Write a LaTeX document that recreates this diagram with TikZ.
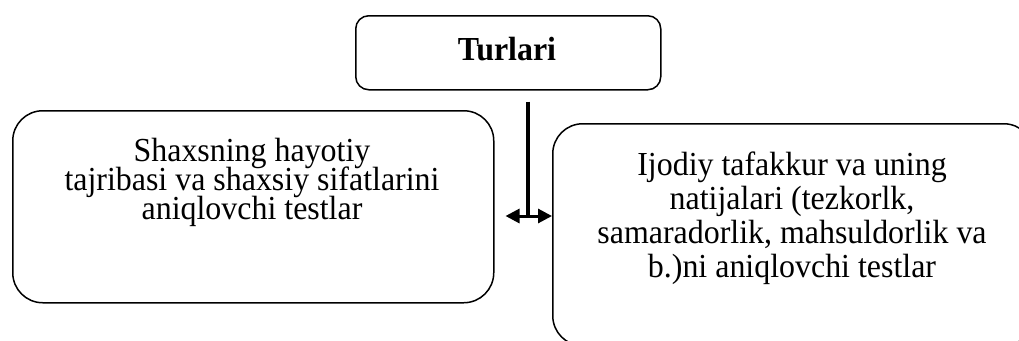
\documentclass[tikz,border=0pt]{standalone}
\usepackage{fontspec}
\setmainfont{Liberation Serif}
\newfontfamily\boxfont[FakeStretch=0.95]{Liberation Serif}
\newcommand{\leftfont}{\boxfont\fontsize{33.6}{29}\selectfont\lineskiplimit=-60pt\relax}
\newcommand{\rightfont}{\boxfont\fontsize{33.6}{34}\selectfont\lineskiplimit=-60pt\relax}
\usetikzlibrary{arrows.meta}
\begin{document}
\begin{tikzpicture}[x=1pt,y=-1pt,
  box/.style={draw=black,line width=1.5pt,rounded corners=30pt,inner sep=0pt,anchor=north west},
  txt/.style={anchor=north,inner sep=0pt,align=center},
  conn/.style={line width=3.8pt},
  dbl/.style={line width=3pt,{Triangle[length=14pt,width=14pt]}-{Triangle[length=14pt,width=14pt]}}]
\useasboundingbox[fill=white] (0,0) rectangle (1019,340);
% boxes
\node[box,rounded corners=13pt,minimum width=305pt,minimum height=74pt] (T) at (355,15) {};
\node[box,minimum width=481pt,minimum height=192pt] (L) at (12,110) {};
\node[box,minimum width=481pt,minimum height=222pt] (R) at (552,123) {};
% texts
\node[anchor=base,inner sep=0pt,font=\boxfont\fontsize{33.6}{29}\selectfont\bfseries] (t1) at (507,60) {Turlari};
\node[txt,font=\leftfont] (lt) at (252,138)
  {Shaxsning hayotiy\\tajribasi va shaxsiy sifatlarini\\aniqlovchi testlar};
\node[txt,font=\rightfont] (rt) at (792,152)
  {Ijodiy tafakkur va uning\\natijalari (tezkorlk,\\samaradorlik, mahsuldorlik va\\b.)ni aniqlovchi testlar};
% connectors
\coordinate (j) at (528,216);
\draw[conn] ([yshift=-11pt]T.south -| j) -- (j);
\draw[dbl] ([xshift=11pt]L.east |- j) -- (R.west |- j);
\end{tikzpicture}
\end{document}
